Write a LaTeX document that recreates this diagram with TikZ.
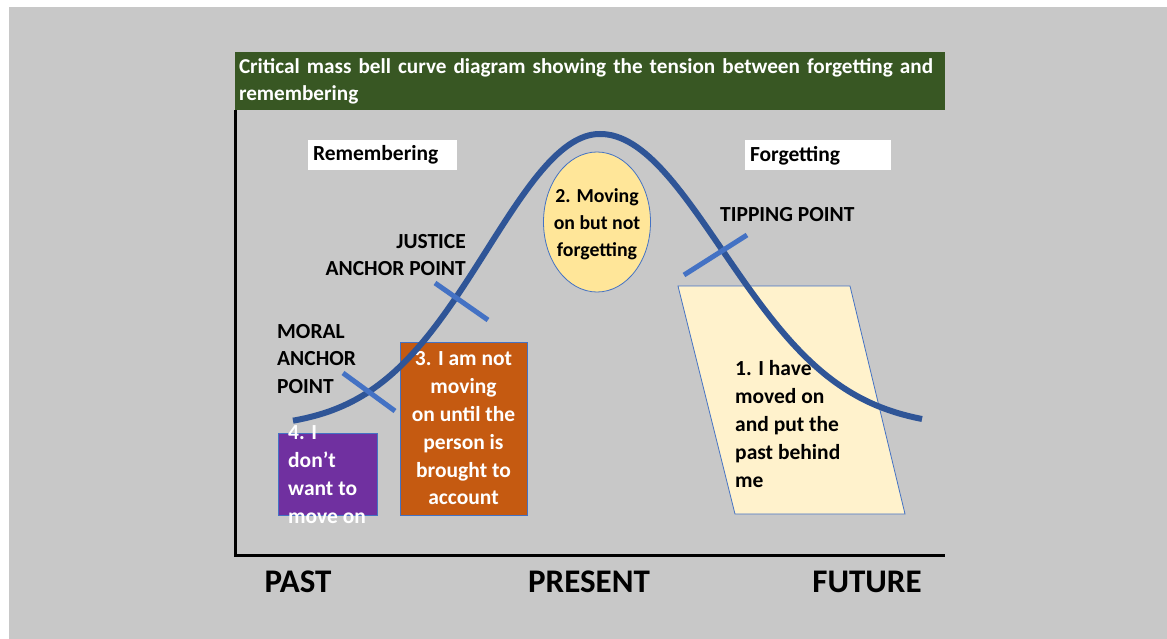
\documentclass[tikz,border=0pt]{standalone}
\usepackage{fontspec}
\setmainfont{Carlito}
\usetikzlibrary{shapes.geometric}
\definecolor{bggray}{HTML}{C8C8C8}
\definecolor{titlegreen}{HTML}{385723}
\definecolor{curveblue}{HTML}{2F5597}
\definecolor{tickblue}{HTML}{4472C4}
\definecolor{ellfill}{HTML}{FFE699}
\definecolor{orangebox}{HTML}{C55A11}
\definecolor{purplebox}{HTML}{7030A0}
\definecolor{paperfill}{HTML}{FFF2CC}
\tikzset{
  lbl/.style={font=\bfseries\fontsize{21.5}{27.8}\selectfont, inner sep=0pt},
  axislbl/.style={font=\bfseries\fontsize{33}{40}\selectfont, inner sep=0pt},
  whitebox/.style={lbl, fill=white, minimum height=30, inner xsep=5, align=left},
  bellcurve/.style={curveblue, line width=6, line cap=butt},
  tickmark/.style={tickblue, line width=5},
  thinblue/.style={draw=tickblue, line width=0.8},
}
\begin{document}
\begin{tikzpicture}[x=1pt,y=-1pt]
\useasboundingbox (0,0) rectangle (1167,639);
\fill[white] (0,0) rectangle (1167,639);
\fill[bggray] (9,7) rectangle (1167,639);

% title bar
\node[font=\bfseries\fontsize{21.2}{27}\selectfont, inner sep=0pt, fill=titlegreen, text=white,
      minimum width=710, minimum height=58, text width=702, inner xsep=4, align=left]
      (title) at (590,81)
  {Critical mass bell curve diagram showing the tension between forgetting and\\remembering};

% axes
\coordinate (ytop) at (235,110);
\coordinate (origin) at (235,555);
\coordinate (xend) at (945,555);
\draw[line width=3, line join=miter] (ytop) -- (origin) -- (xend);

\node[axislbl] (past) at (298,582) {PAST};
\node[axislbl] (present) at (589,582) {PRESENT};
\node[axislbl] (future) at (867,582) {FUTURE};

% header boxes
\node[whitebox, text width=139] (remembering) at (382.5,155) {Remembering};
\node[whitebox, text width=136] (forgetting) at (818,155.5) {Forgetting};

% labels
\node[lbl, anchor=east, align=right] (justice) at (466,255) {JUSTICE\\ANCHOR POINT};
\node[lbl, anchor=west, align=left] (moral) at (277,359) {MORAL\\ANCHOR\\POINT};
\node[lbl, anchor=west] (tipping) at (720,215) {TIPPING POINT};

% ellipse
\node[ellipse, thinblue, fill=ellfill, minimum width=107, minimum height=140,
      inner sep=0pt] (moving) at (597,222) {};
\node[font=\bfseries\fontsize{19.8}{27}\selectfont, inner sep=0pt, align=center]
  (movingtext) at ([yshift=-2]moving.center)
  {2. Moving\\on but not\\forgetting};

% orange box
\node[lbl, rectangle, thinblue, fill=orangebox, text=white, minimum width=127,
      minimum height=173, align=center] (account) at (463.5,428.5)
  {3. I am not\\moving\\on until the\\person is\\brought to\\account};

% parallelogram
\draw[thinblue, fill=paperfill] (678,286) -- (850,286) -- (905,514) -- (735,514) -- cycle;
\node[lbl, anchor=west, align=left] (movedon) at (735,424)
  {1. I have\\moved on\\and put the\\past behind\\me};

% bell curve
\draw[bellcurve] plot[domain=293:600, samples=80] (\x,{428-294*exp(-0.5*((\x-600)/113)^2)})
  -- plot[domain=600:922, samples=80] (\x,{428-294*exp(-0.5*((\x-600)/122)^2)});

% purple box
\node[rectangle, draw=tickblue, line width=0.8, fill=purplebox,
      minimum width=99, minimum height=82, inner sep=0pt] (wantto) at (327.5,474) {};
\node[lbl, text=white, anchor=west, align=left] (wanttotext) at (288,474.5)
  {4. I\\don’t\\want to\\move on};

% anchor ticks
\coordinate (m1) at (343,373); \coordinate (m2) at (395,411);
\coordinate (j1) at (435,283); \coordinate (j2) at (488,320);
\coordinate (t1) at (684,275); \coordinate (t2) at (747,235);
\draw[tickmark] (m1) -- (m2);
\draw[tickmark] (j1) -- (j2);
\draw[tickmark] (t1) -- (t2);
\end{tikzpicture}
\end{document}
